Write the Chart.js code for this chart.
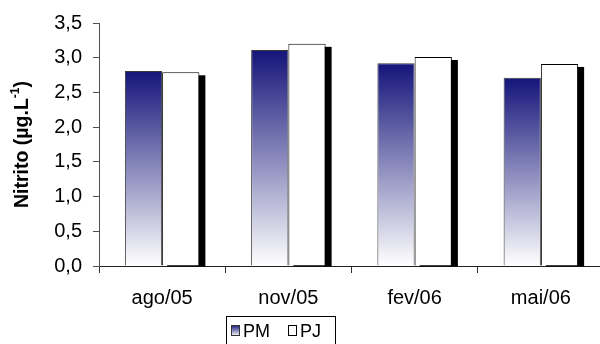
<!DOCTYPE html>
<html>
<head>
<meta charset="utf-8">
<script src="https://cdn.jsdelivr.net/npm/chart.js@4/dist/chart.umd.min.js"></script>
<style>
  html, body { margin: 0; padding: 0; background: #fff; overflow: hidden; }
  #wrap { width: 600px; height: 344px; overflow: hidden; position: relative; }
  #wrap canvas { position: absolute; left: 0; top: 0; }
</style>
</head>
<body>
<div id="wrap"><canvas id="c" width="604" height="344"></canvas></div>
<script>
// Nitrite concentration per sampling campaign, two stations
const categories = ['ago/05', 'nov/05', 'fev/06', 'mai/06'];
const seriesNames = ['PM', 'PJ'];
const pmValues = [2.81, 3.11, 2.92, 2.71];
const pjValues = [2.79, 3.20, 3.01, 2.91];
const yTickValues = [0, 0.5, 1.0, 1.5, 2.0, 2.5, 3.0, 3.5];
// axis title pieces: main text, superscript, closing
const yTitleParts = ['Nitrito (\u00b5g.L', '-1', ')'];

const FONT = "'Liberation Sans', Arial, sans-serif";
const NAVY = '#14147a';

function navyGradient(ctx, top, bottom) {
  const g = ctx.createLinearGradient(0, top, 0, bottom);
  g.addColorStop(0, NAVY);
  g.addColorStop(1, '#ffffff');
  return g;
}

// solid black drop shadow behind the PJ bars, taken from the laid-out bar elements
const barShadow = {
  id: 'barShadow',
  beforeDatasetsDraw(chart) {
    const ctx = chart.ctx;
    const meta = chart.getDatasetMeta(1);
    ctx.save();
    ctx.fillStyle = '#000';
    meta.data.forEach((bar) => {
      const p = bar.getProps(['x', 'y', 'base', 'width'], true);
      const left = p.x - p.width / 2 + 5;
      const top = Math.min(p.y, p.base) + 3;
      const bottom = Math.max(p.y, p.base) + 1;
      ctx.fillRect(left, top, p.width + 1, bottom - top);
    });
    ctx.restore();
  }
};

// rotated y-axis title with superscript
const yTitle = {
  id: 'yTitle',
  afterDraw(chart) {
    const ctx = chart.ctx;
    const a = chart.chartArea;
    const main = 'bold 19.5px ' + FONT;
    const sup = 'bold 12px ' + FONT;
    ctx.save();
    ctx.font = main;
    const w0 = ctx.measureText(yTitleParts[0]).width;
    const w2 = ctx.measureText(yTitleParts[2]).width;
    ctx.font = sup;
    const w1 = ctx.measureText(yTitleParts[1]).width;
    const total = w0 + w1 + w2;
    ctx.translate(23, (a.top + a.bottom) / 2);
    ctx.rotate(-Math.PI / 2);
    ctx.fillStyle = '#000';
    ctx.textBaseline = 'middle';
    ctx.textAlign = 'left';
    let x = -total / 2;
    ctx.font = main;
    ctx.fillText(yTitleParts[0], x, 0);
    x += w0;
    ctx.font = sup;
    ctx.fillText(yTitleParts[1], x, -7);
    x += w1;
    ctx.font = main;
    ctx.fillText(yTitleParts[2], x, 0);
    ctx.restore();
  }
};

// boxed legend under the category labels
const boxLegend = {
  id: 'boxLegend',
  afterDraw(chart) {
    const ctx = chart.ctx;
    ctx.save();
    ctx.lineWidth = 1;
    ctx.strokeStyle = '#000';
    ctx.strokeRect(226.5, 316.5, 109, 30);
    ctx.font = '18px ' + FONT;
    ctx.textBaseline = 'alphabetic';
    // PM swatch
    ctx.fillStyle = navyGradient(ctx, 325, 336);
    ctx.fillRect(231, 325, 9, 11);
    ctx.strokeStyle = '#333';
    ctx.strokeRect(231.5, 325.5, 8, 10);
    ctx.fillStyle = '#000';
    ctx.fillText(seriesNames[0], 243, 337);
    // PJ swatch
    ctx.fillStyle = '#fff';
    ctx.fillRect(288, 325, 9, 11);
    ctx.strokeStyle = '#000';
    ctx.strokeRect(288.5, 325.5, 8, 10);
    ctx.fillStyle = '#000';
    ctx.fillText(seriesNames[1], 300, 337);
    ctx.restore();
  }
};

const ctx = document.getElementById('c').getContext('2d');
new Chart(ctx, {
  type: 'bar',
  data: {
    labels: categories,
    datasets: [
      {
        label: seriesNames[0],
        data: pmValues,
        backgroundColor: (c) => {
          const chart = c.chart;
          if (c.type !== 'data' || !chart.chartArea || !chart.scales.y) return NAVY;
          const y = chart.scales.y;
          return navyGradient(chart.ctx, y.getPixelForValue(c.parsed.y), y.getPixelForValue(0));
        },
        borderColor: '#3a3a3a',
        borderWidth: 1,
        categoryPercentage: 0.59,
        barPercentage: 1.0
      },
      {
        label: seriesNames[1],
        data: pjValues,
        backgroundColor: '#ffffff',
        borderColor: '#000000',
        borderWidth: 1,
        categoryPercentage: 0.59,
        barPercentage: 1.0
      }
    ]
  },
  options: {
    responsive: false,
    devicePixelRatio: 1,
    animation: false,
    layout: { padding: { top: 23, left: 0, right: 0, bottom: 0 } },
    plugins: {
      legend: { display: false },
      tooltip: { enabled: false },
      title: { display: false }
    },
    scales: {
      x: {
        grid: { display: true, drawOnChartArea: false, drawTicks: true, tickLength: 7, color: '#303030', offset: true },
        border: { display: true, color: '#202020', width: 1 },
        ticks: { color: '#000', font: { family: FONT, size: 20 }, padding: 13, maxRotation: 0 },
        afterFit(scale) { scale.height = 78; }
      },
      y: {
        min: 0,
        max: 3.5,
        afterBuildTicks(scale) { scale.ticks = yTickValues.map(v => ({ value: v })); },
        grid: { display: true, drawOnChartArea: false, drawTicks: true, tickLength: 6, color: '#505050' },
        border: { display: true, color: '#505050', width: 1 },
        ticks: {
          color: '#000',
          font: { family: FONT, size: 20 },
          padding: 11,
          callback: (v) => Number(v).toFixed(1).replace('.', ',')
        },
        afterFit(scale) { scale.width = 99; }
      }
    }
  },
  plugins: [barShadow, yTitle, boxLegend]
});
</script>
</body>
</html>
